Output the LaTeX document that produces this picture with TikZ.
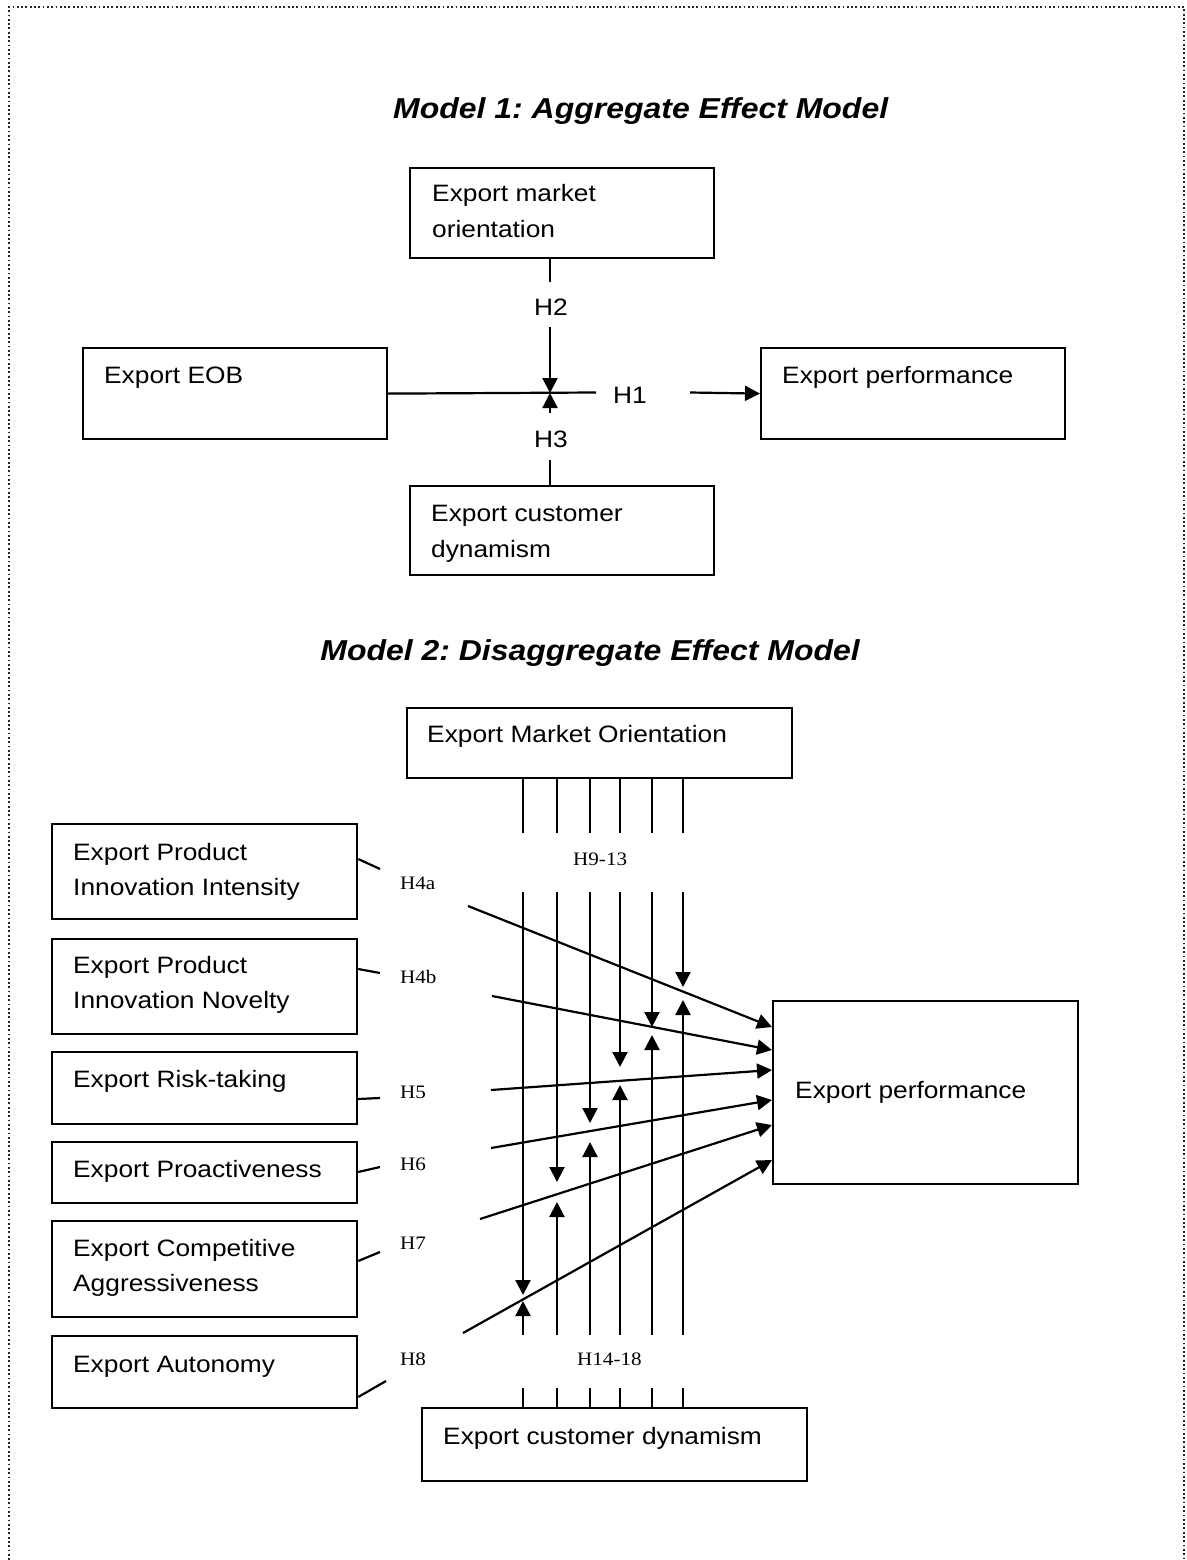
\documentclass[tikz,border=0pt]{standalone}
\usepackage{fontspec}
\setmainfont{Liberation Sans}[FakeStretch=1.11]
\newfontfamily\hypfont{Liberation Serif}[FakeStretch=1.11]
\usetikzlibrary{arrows.meta,calc}
\frenchspacing
\begin{document}
\begin{tikzpicture}[x=1pt,y=-1pt,
  box/.style={draw, line width=2.2pt, inner sep=0pt, anchor=north west},
  txt/.style={anchor=base west, inner sep=0pt, font=\fontsize{23.7}{28}\selectfont},
  ttl/.style={inner sep=0pt, font=\fontsize{28.8}{34}\selectfont\bfseries\itshape},
  hsans/.style={anchor=base, inner sep=0pt, font=\fontsize{23.7}{28}\selectfont},
  hser/.style={anchor=base west, inner sep=0pt, font=\hypfont\fontsize{19}{23}\selectfont},
  link/.style={line width=2.2pt},
  arr/.style={line width=2.2pt, -{Triangle[length=15pt,width=15pt]}},
  frame/.style={line width=1.6pt, black!85, dash pattern=on 1.8pt off 2.5pt}
]
\useasboundingbox (0,0) rectangle (1186,1560);
\draw[frame] (9,1560) -- (9,7) -- (1184,7) -- (1184,1560);

% ---------------- Model 1 ----------------
\node[ttl, anchor=base west] (title1) at (393,119) {Model 1: Aggregate Effect Model};

\node[box, minimum width=304pt, minimum height=90pt] (emo) at (409,167) {};
\node[txt] (emo1) at (432,201) {Export market};
\node[txt] (emo2) at (432,237) {orientation};

\node[box, minimum width=304pt, minimum height=91pt] (eob) at (82,347) {};
\node[txt] (eobt) at (104,383) {Export EOB};

\node[box, minimum width=304pt, minimum height=91pt] (perf) at (760,347) {};
\node[txt] (perft) at (782,383) {Export performance};

\node[box, minimum width=304pt, minimum height=89pt] (ecd) at (409,485) {};
\node[txt] (ecd1) at (431,521) {Export customer};
\node[txt] (ecd2) at (431,557) {dynamism};

\coordinate (j) at (550,393);
\node[hsans] (h2) at (551,315) {H2};
\node[hsans] (h1) at (630,403) {H1};
\node[hsans] (h3) at (551,447) {H3};

\draw[link] (emo.south -| j) -- (550,282);
\draw[arr] (550,327) -- (j);
\draw[link] (eob.east) -- (596,392.5);
\draw[arr] (690,392.5) -- (perf.west);
\draw[arr] (550,413) -- (j);
\draw[link] (550,460) -- (ecd.north -| j);

% ---------------- Model 2 ----------------
\node[ttl, anchor=base east] (title2) at (860,660) {Model 2: Disaggregate Effect Model};

\node[box, minimum width=385pt, minimum height=70pt] (mo) at (406,707) {};
\node[txt] (mot) at (427,742) {Export Market Orientation};

\node[box, minimum width=385pt, minimum height=73pt] (cd) at (421,1407) {};
\node[txt] (cdt) at (443,1444) {Export customer dynamism};

\node[box, minimum width=305pt, minimum height=183pt] (ep) at (772,1000) {};
\node[txt] (ept) at (795,1098) {Export performance};

\node[box, minimum width=305pt, minimum height=95pt] (b1) at (51,823) {};
\node[txt] (b1a) at (73,860) {Export Product};
\node[txt] (b1b) at (73,895) {Innovation Intensity};

\node[box, minimum width=305pt, minimum height=95pt] (b2) at (51,938) {};
\node[txt] (b2a) at (73,973) {Export Product};
\node[txt] (b2b) at (73,1008) {Innovation Novelty};

\node[box, minimum width=305pt, minimum height=72pt] (b3) at (51,1051) {};
\node[txt] (b3a) at (73,1087) {Export Risk-taking};

\node[box, minimum width=305pt, minimum height=61pt] (b4) at (51,1141) {};
\node[txt] (b4a) at (73,1177) {Export Proactiveness};

\node[box, minimum width=305pt, minimum height=96pt] (b5) at (51,1220) {};
\node[txt] (b5a) at (73,1256) {Export Competitive};
\node[txt] (b5b) at (73,1291) {Aggressiveness};

\node[box, minimum width=305pt, minimum height=72pt] (b6) at (51,1335) {};
\node[txt] (b6a) at (73,1372) {Export Autonomy};

% moderator lines from both moderators
\foreach \i/\x/\d/\u in {1/523/1295/1301, 2/557/1182/1202, 3/590/1123/1142,
                        4/620/1067/1085, 5/652/1027/1035, 6/683/987/1000} {
  \coordinate (v\i) at (\x,0);
  \draw[link] (v\i |- mo.south) -- (\x,833);
  \draw[arr] (\x,892) -- (\x,\d);
  \draw[arr] (\x,1335) -- (\x,\u);
  \draw[link] (\x,1388) -- (v\i |- cd.north);
}
\node[hser] (h913) at (573,865) {H9-13};
\node[hser] (h1418) at (577,1365) {H14-18};

% direct effects
\node[hser] (h4a) at (400,889) {H4a};
\node[hser] (h4b) at (400,983) {H4b};
\node[hser] (h5) at (400,1098) {H5};
\node[hser] (h6) at (400,1170) {H6};
\node[hser] (h7) at (400,1249) {H7};
\node[hser] (h8) at (400,1365) {H8};

\draw[link] ($(b1.north east)+(0,36)$) -- (380,869);
\draw[link] ($(b2.north east)+(0,31)$) -- (380,973);
\draw[link] ($(b3.north east)+(0,48)$) -- (380,1098);
\draw[link] ($(b4.north east)+(0,31)$) -- (380,1167);
\draw[link] ($(b5.north east)+(0,41)$) -- (380,1252);
\draw[link] ($(b6.north east)+(0,62)$) -- (386,1381);

\coordinate (s4a) at (468,906);
\coordinate (s4b) at (492,996);
\coordinate (s5) at (491,1090);
\coordinate (s6) at (491,1148);
\coordinate (s7) at (480,1219);
\coordinate (s8) at (463,1333);

\draw[arr] (s4a) -- ($(ep.north west)+(0,27)$);
\draw[arr] (s4b) -- ($(ep.north west)+(0,50)$);
\draw[arr] (s5) -- ($(ep.north west)+(0,70)$);
\draw[arr] (s6) -- ($(ep.north west)+(0,100)$);
\draw[arr] (s7) -- ($(ep.north west)+(0,125)$);
\draw[arr] (s8) -- ($(ep.north west)+(0,160)$);
\end{tikzpicture}
\end{document}
